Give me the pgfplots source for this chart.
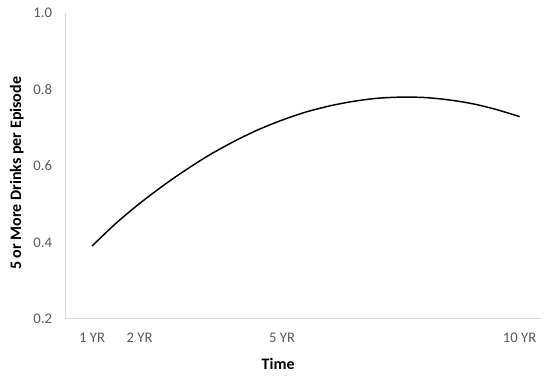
\documentclass[border=0pt]{standalone}
\usepackage{fontspec}
\setmainfont{Carlito}
\usepackage{pgfplots}
\pgfplotsset{compat=1.18}
\definecolor{axisgray}{HTML}{D9D9D9}
\definecolor{ticktext}{HTML}{595959}

\begin{document}
\begin{tikzpicture}
\begin{axis}[
    scale only axis,
    width=356.25pt, height=229.5pt,
    xmin=0.45, xmax=10.45,
    ymin=0.2, ymax=1.0,
    axis lines*=left,
    axis line style={axisgray, line width=0.75pt},
    xtick={1,2,5,10},
    xticklabels={1 YR, 2 YR, 5 YR, 10 YR},
    ytick={0.2,0.4,0.6,0.8,1.0},
    major tick length=0pt,
    /pgf/number format/.cd, fixed, fixed zerofill, precision=1, assume math mode=true,
    /pgfplots/.cd,
    tick label style={font=\fontsize{11}{13}\selectfont, text=ticktext},
    xticklabel style={yshift=-7pt},
    yticklabel style={xshift=-7pt},
    xlabel={Time},
    ylabel={5 or More Drinks per Episode},
    x label style={font=\fontsize{12}{14}\selectfont\bfseries, at={(axis description cs:0.5,0)}, anchor=center, xshift=-19pt, yshift=-33.75pt},
    y label style={font=\fontsize{12}{14}\selectfont\bfseries, at={(axis description cs:0,0.5)}, anchor=center, rotate=0, yshift=37pt, xshift=-5.5pt},
    clip=false,
]
\addplot[black, line width=1.1pt, smooth] coordinates {
    (1,0.391) (1.5,0.450) (2,0.502) (2.5,0.549) (3,0.592) (3.5,0.631)
    (4,0.665) (4.5,0.695) (5,0.720) (5.5,0.741) (6,0.757) (6.5,0.769)
    (7,0.777) (7.5,0.780) (8,0.779) (8.5,0.773) (9,0.763) (9.5,0.748)
    (10,0.729)
};
\end{axis}
\pgfresetboundingbox
\path (current axis.south west) ++(-49.5pt,-44.25pt) coordinate (bl);
\path (current axis.north east) ++(6.75pt,9.75pt) coordinate (tr);
\path[use as bounding box] (bl) rectangle (tr);
\end{tikzpicture}
\end{document}
